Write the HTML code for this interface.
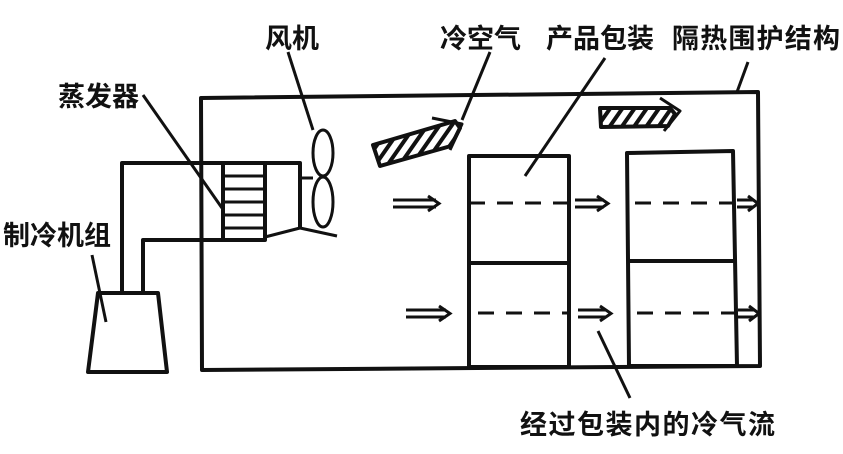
<!DOCTYPE html><html><head><meta charset="utf-8"><style>body{margin:0;background:#fff}text{font-family:"Liberation Sans","Noto Sans CJK SC",sans-serif;font-weight:bold;font-size:27px;fill:#111}</style></head><body>
<svg width="843" height="449" viewBox="0 0 843 449" xmlns="http://www.w3.org/2000/svg">
<defs><pattern id="h" width="10" height="10" patternUnits="userSpaceOnUse" patternTransform="rotate(35)"><rect width="10" height="10" fill="#fff"/><rect width="4" height="10" fill="#111"/></pattern></defs>
<g fill="none" stroke="#111" stroke-width="4" stroke-linejoin="round">
<path d="M201,98 L758,92 L760,366 L202,370 Z"/>
<path d="M122,292 L122,163 L300,163 L300,228"/>
<path d="M143,292 L143,240 L265,240"/>
<rect x="223" y="163" width="42" height="77"/>
<path d="M225,176H263M225,189H263M225,202H263M225,215H263M225,228H263" stroke-width="3"/>
<path d="M265,237 L300,228 L337,236" stroke-width="3"/>
<path d="M300,178 H313" stroke-width="3"/>
<ellipse cx="323" cy="153" rx="10" ry="23" stroke-width="3"/>
<ellipse cx="323" cy="202" rx="10" ry="25" stroke-width="3"/>
<path d="M98,293 L158,293 L167,372 L88,372 Z"/>
<rect x="469" y="156" width="100" height="211"/>
<path d="M469,263 H569"/>
<path d="M627,153 L733,151 L737,366 L629,366 Z"/>
<path d="M629,261 H735"/>
</g>
<g stroke="#111" stroke-width="3" stroke-dasharray="16,12" fill="none">
<path d="M469,203 H569"/><path d="M635,203 H735"/>
<path d="M478,313 H569"/><path d="M637,313 H735"/>
</g>
<g stroke="#111" stroke-width="3" fill="none">
<path d="M393,200H436M393,207H436M428,196L439,203.5L428,211"/>
<path d="M575,200H604M575,207H604M597,196L608,203.5L597,211"/>
<path d="M737,200H753M737,207H753M748,196L758,203.5L748,211"/>
<path d="M406,310H446M406,317H446M439,306L450,313.5L439,321"/>
<path d="M578,310H606M578,317H606M600,306L611,313.5L600,321"/>
<path d="M738,310H754M738,317H754M749,306L759,313.5L749,321"/>
<path d="M288,52 L313,130"/><path d="M143,95 L222,208"/><path d="M92,255 L106,322"/>
<path d="M490,52 L462,120"/><path d="M605,58 L525,176"/><path d="M748,62 L737,92"/>
<path d="M598,331 L630,398"/>
</g>
<g stroke="#111" stroke-width="4" stroke-linejoin="round">
<path d="M373,145 L455,121 L460,128 L451,146 L380,166 Z" fill="url(#h)"/>
<path d="M432,118 L462,124 L450,150" fill="none" stroke-width="3"/>
<path d="M600,108 L670,108 L675,114 L668,126 L601,127 Z" fill="url(#h)"/>
<path d="M660,98 L680,111 L664,131" fill="none" stroke-width="3"/>
</g>
<text x="265" y="48">风机</text>
<text x="440" y="48">冷空气</text>
<text x="546" y="48">产品包装</text>
<text x="672" y="48" textLength="168">隔热围护结构</text>
<text x="58" y="106">蒸发器</text>
<text x="3" y="245">制冷机组</text>
<text x="520" y="434" textLength="255">经过包装内的冷气流</text>
</svg></body></html>
